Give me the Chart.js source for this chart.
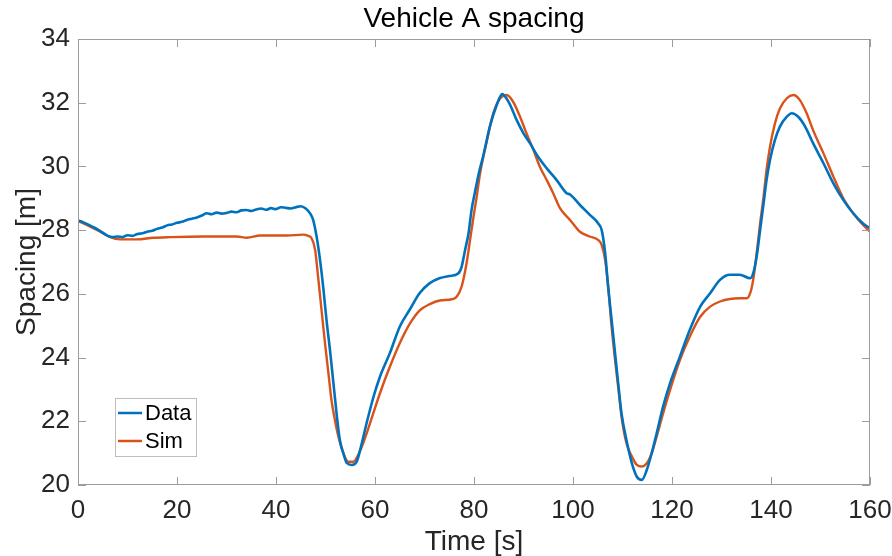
<!DOCTYPE html>
<html>
<head>
<meta charset="utf-8">
<script src="https://cdn.jsdelivr.net/npm/chart.js@4/dist/chart.umd.min.js"></script>
<style>
  html, body { margin: 0; padding: 0; background: #fff; }
  #wrap { width: 892px; height: 556px; }
</style>
</head>
<body>
<div id="wrap"><canvas id="spacingChart" width="892" height="556"></canvas></div>
<script>
'use strict';

// --- values ---
const chartTitle = 'Vehicle A spacing';
const xTicks = [0, 20, 40, 60, 80, 100, 120, 140, 160];
const yTicks = [20, 22, 24, 26, 28, 30, 32, 34];

const dataTime = [
  0, 1, 2, 3, 4, 5, 6, 7, 8, 9, 10, 11, 12, 13, 14, 15, 16, 17, 18, 19,
  20, 21, 22, 23, 24, 25, 26, 27, 28, 29, 30, 31, 32, 33, 34, 35, 36, 37, 38, 39,
  40, 41, 42, 43, 44, 45, 46, 47, 47.5, 48.2, 48.9, 49.6, 50.2, 50.9, 51.6, 52.3, 52.9, 53.6, 54.3, 55.3,
  56.3, 57, 58.3, 59.7, 61, 63, 65, 67, 69, 71, 73, 75, 76.8, 77.5, 78.2, 78.9, 79.5, 80.2, 81, 81.9,
  83.2, 84.6, 85.7, 86.5, 87.3, 88.6, 90, 91.3, 92.7, 94.7, 96.7, 98.7, 99.4, 101.4, 103.4, 105.1, 105.8, 106.5, 107.1, 107.8,
  108.5, 109.2, 109.8, 110.8, 111.9, 112.9, 113.9, 114.9, 115.9, 116.9, 118.2, 119.6, 121.6, 123.6, 125.7, 127.7, 129.7, 131.7, 133.7, 135.8,
  136.4, 137.1, 137.8, 138.5, 139.1, 139.8, 140.8, 141.8, 143.2, 144.2, 145.5, 146.9, 148.5, 150.6, 152.6, 154.6, 156.6, 158.6, 160
];
const dataSpacing = [
  28.30, 28.25, 28.18, 28.10, 28.02, 27.92, 27.82, 27.78, 27.80, 27.78, 27.84, 27.82, 27.88, 27.90, 27.95, 27.98, 28.04, 28.08, 28.15, 28.18,
  28.23, 28.26, 28.32, 28.36, 28.40, 28.46, 28.53, 28.50, 28.55, 28.52, 28.54, 28.58, 28.56, 28.62, 28.63, 28.60, 28.65, 28.68, 28.64, 28.69,
  28.66, 28.72, 28.70, 28.68, 28.72, 28.75, 28.68, 28.50, 28.32, 27.80, 27.06, 26.12, 25.18, 24.24, 23.20, 22.15, 21.41, 21.00, 20.69, 20.63,
  20.73, 21.10, 21.94, 22.77, 23.40, 24.14, 24.97, 25.50, 26.02, 26.33, 26.49, 26.56, 26.64, 26.85, 27.38, 27.90, 28.63, 29.20, 29.80, 30.35,
  31.25, 31.93, 32.27, 32.15, 31.93, 31.46, 31.04, 30.73, 30.36, 29.94, 29.57, 29.16, 29.12, 28.79, 28.48, 28.21, 28.00, 27.27, 26.23, 25.18,
  24.13, 23.09, 22.25, 21.41, 20.68, 20.26, 20.16, 20.47, 21.00, 21.62, 22.46, 23.19, 24.03, 24.87, 25.60, 26.02, 26.44, 26.60, 26.60, 26.49,
  26.64, 27.17, 28.00, 28.84, 29.57, 30.20, 30.83, 31.25, 31.56, 31.67, 31.56, 31.25, 30.73, 30.10, 29.47, 28.95, 28.53, 28.21, 28.06
];

const simTime = [
  0, 1.1, 3.1, 5.1, 6.5, 8.5, 11.9, 15.2, 18.6, 25.3, 32.1, 34.1, 36.8, 42.2, 45.5, 46.5, 47.2, 47.9, 48.5, 49.2,
  49.9, 50.6, 51.2, 51.9, 52.6, 53.6, 54.6, 55.6, 56.6, 57.6, 59, 61, 63, 65, 67.1, 69.1, 71.1, 73.1, 75.5, 76.5,
  77.5, 78.5, 79.2, 79.9, 80.5, 81.2, 82.6, 83.9, 85.3, 86.6, 87.9, 89.3, 90.6, 92, 93.3, 94.7, 96, 97.4, 99.4, 101.4,
  103.4, 105.1, 105.8, 106.5, 107.1, 107.8, 108.5, 109.2, 109.8, 110.8, 111.9, 112.9, 113.9, 114.9, 115.9, 116.9, 118.2, 119.6, 121.6, 123.6,
  125.7, 127.7, 129.7, 131.7, 133.7, 135.1, 135.8, 136.4, 137.1, 137.8, 138.5, 139.1, 139.8, 140.8, 141.8, 143.2, 144.5, 145.8, 147.2, 148.5,
  150.6, 152.6, 154.6, 156.6, 158.6, 160
];
const simSpacing = [
  28.28, 28.21, 28.06, 27.90, 27.78, 27.71, 27.71, 27.76, 27.78, 27.80, 27.80, 27.76, 27.83, 27.83, 27.86, 27.82, 27.74, 27.38, 26.54, 25.49,
  24.45, 23.50, 22.67, 22.04, 21.52, 21.00, 20.73, 20.73, 20.94, 21.31, 21.94, 22.88, 23.71, 24.45, 25.08, 25.49, 25.68, 25.79, 25.83, 25.91,
  26.23, 26.96, 27.69, 28.42, 29.00, 29.75, 30.80, 31.67, 32.14, 32.24, 32.03, 31.56, 31.04, 30.52, 29.99, 29.57, 29.16, 28.68, 28.32, 27.95,
  27.80, 27.69, 27.53, 27.06, 26.23, 24.97, 23.92, 22.98, 22.15, 21.31, 20.89, 20.63, 20.58, 20.68, 21.00, 21.52, 22.25, 22.98, 23.92, 24.66,
  25.28, 25.60, 25.76, 25.84, 25.86, 25.86, 26.02, 26.44, 27.27, 28.21, 29.05, 29.89, 30.62, 31.35, 31.82, 32.14, 32.24, 32.09, 31.67, 31.14,
  30.41, 29.68, 29.00, 28.53, 28.16, 27.95
];

const BLUE = '#0072bd';
const ORANGE = '#d95319';
const AXIS_GREY = '#9c9c9c';
const TEXT = '#262626';
const FONT = '"Liberation Sans", Arial, Helvetica, sans-serif';

function toPoints(xs, ys) {
  return xs.map((x, i) => ({ x, y: ys[i] }));
}

// MATLAB-like box with inward ticks on all four sides, plus title
const boxPlugin = {
  id: 'matlabBox',
  afterDraw(chart) {
    const { ctx, chartArea: a, scales } = chart;
    const tl = 8;
    ctx.save();
    ctx.strokeStyle = AXIS_GREY;
    ctx.lineWidth = 1;
    ctx.strokeRect(a.left + 0.5, a.top + 0.5, a.right - a.left - 1, a.bottom - a.top - 1);
    ctx.beginPath();
    xTicks.forEach(v => {
      const px = Math.round(scales.x.getPixelForValue(v)) + 0.5;
      ctx.moveTo(px, a.bottom); ctx.lineTo(px, a.bottom - tl);
      ctx.moveTo(px, a.top); ctx.lineTo(px, a.top + tl);
    });
    yTicks.forEach(v => {
      const py = Math.round(scales.y.getPixelForValue(v)) + 0.5;
      ctx.moveTo(a.left, py); ctx.lineTo(a.left + tl, py);
      ctx.moveTo(a.right, py); ctx.lineTo(a.right - tl, py);
    });
    ctx.stroke();

    // title
    ctx.fillStyle = '#000';
    ctx.font = '28px ' + FONT;
    ctx.textAlign = 'center';
    ctx.textBaseline = 'middle';
    ctx.fillText(chartTitle, (a.left + a.right) / 2, 19);
    ctx.restore();
  }
};

// legend box in the lower left corner of the axes
const legendPlugin = {
  id: 'insideLegend',
  afterDraw(chart) {
    const { ctx } = chart;
    const bx = 115, by = 398, bw = 81, bh = 58;
    ctx.save();
    ctx.fillStyle = '#fff';
    ctx.fillRect(bx, by, bw, bh);
    ctx.strokeStyle = '#bdbdbd';
    ctx.lineWidth = 1;
    ctx.strokeRect(bx + 0.5, by + 0.5, bw, bh);
    ctx.font = '22px ' + FONT;
    ctx.textBaseline = 'middle';
    ctx.textAlign = 'left';
    chart.data.datasets.forEach((ds, i) => {
      const y = by + 15 + i * 28;
      ctx.strokeStyle = ds.borderColor;
      ctx.lineWidth = 2.5;
      ctx.beginPath();
      ctx.moveTo(bx + 3, y);
      ctx.lineTo(bx + 27, y);
      ctx.stroke();
      ctx.fillStyle = '#000';
      ctx.fillText(ds.label, bx + 30, y + 1);
    });
    ctx.restore();
  }
};

new Chart(document.getElementById('spacingChart'), {
  type: 'line',
  data: {
    datasets: [
      { label: 'Data', data: toPoints(dataTime, dataSpacing), borderColor: BLUE, borderWidth: 2.6, pointRadius: 0, cubicInterpolationMode: 'monotone' },
      { label: 'Sim', data: toPoints(simTime, simSpacing), borderColor: ORANGE, borderWidth: 2.4, pointRadius: 0, cubicInterpolationMode: 'monotone' }
    ]
  },
  options: {
    responsive: false,
    animation: false,
    layout: { padding: { top: 39, right: 22, left: 0, bottom: 0 } },
    plugins: { legend: { display: false }, title: { display: false }, tooltip: { enabled: false } },
    scales: {
      x: {
        type: 'linear', min: 0, max: 160,
        afterBuildTicks: s => { s.ticks = xTicks.map(v => ({ value: v })); },
        afterFit: s => { s.height = 71; s.paddingLeft = 0; s.paddingRight = 0; },
        grid: { display: false }, border: { display: false },
        ticks: { color: TEXT, font: { family: FONT, size: 26 }, padding: 2, maxRotation: 0 },
        title: { display: true, text: 'Time [s]', color: TEXT, font: { family: FONT, size: 28 }, padding: { top: 0, bottom: -3 } }
      },
      y: {
        type: 'linear', min: 20, max: 34,
        afterBuildTicks: s => { s.ticks = yTicks.map(v => ({ value: v })); },
        afterFit: s => { s.width = 78; s.paddingTop = 0; s.paddingBottom = 0; },
        grid: { display: false }, border: { display: false },
        ticks: { color: TEXT, font: { family: FONT, size: 26 }, padding: 0 },
        title: { display: true, text: 'Spacing [m]', color: TEXT, font: { family: FONT, size: 28 }, padding: { top: 10, bottom: 0 } }
      }
    }
  },
  plugins: [boxPlugin, legendPlugin]
});
</script>
</body>
</html>
